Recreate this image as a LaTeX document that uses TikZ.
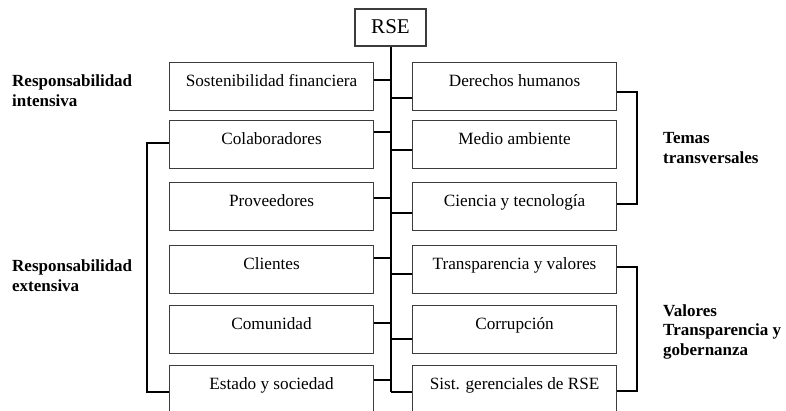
\documentclass[tikz,border=0pt]{standalone}
\usepackage{fontspec}
\setmainfont{Liberation Serif}
\usetikzlibrary{calc}
\definecolor{boxgray}{HTML}{3C3C3C}
\begin{document}
\begin{tikzpicture}[x={(1pt,0pt)},y={(0pt,-1pt)},
  box/.style={draw=boxgray, line width=1.1pt, rectangle, minimum width=204pt,
    inner xsep=0pt, inner ysep=0pt, text height=24pt, text depth=24pt,
    anchor=north west, font=\fontsize{17.2}{20}\selectfont},
  conn/.style={line width=2pt, black},
  lbl/.style={font=\bfseries\fontsize{17}{19.5}\selectfont, align=left,
    anchor=base west, inner sep=0pt}]
\clip (0,0) rectangle (786,410);
\fill[white] (0,0) rectangle (786,410);

\node[draw=boxgray, line width=1.1pt, minimum width=71pt, minimum height=37pt,
  inner sep=0pt, text height=14pt, text depth=2pt, font=\fontsize{21}{24}\selectfont] (rse) at (390.5,27.5) {RSE};

\node[box] (L1) at (169,62) {Sostenibilidad financiera};
\node[box] (L2) at (169,120) {Colaboradores};
\node[box] (L3) at (169,182) {Proveedores};
\node[box] (L4) at (169,245) {Clientes};
\node[box] (L5) at (169,305) {Comunidad};
\node[box] (L6) at (169,365) {Estado y sociedad};

\node[box] (R1) at (412,62) {Derechos humanos};
\node[box] (R2) at (412,120) {Medio ambiente};
\node[box] (R3) at (412,182) {Ciencia y tecnología};
\node[box] (R4) at (412,245) {Transparencia y valores};
\node[box] (R5) at (412,305) {Corrupción};
\node[box] (R6) at (412,365) {Sist. gerenciales de RSE};

% trunk
\coordinate (tbot) at ($(R6.north west)+(0,27)$);
\draw[conn] (rse.south) -- (rse.south |- tbot);

% left connectors
\foreach \n/\d in {1/18,2/12,3/16,4/13,5/18,6/15}{
  \coordinate (a\n) at ($(L\n.north east)+(0,\d)$);
  \draw[conn] (a\n) -- (a\n -| rse.south);
}
% right connectors
\foreach \n/\d in {1/36,2/30,3/31,4/29,5/34,6/27}{
  \coordinate (b\n) at ($(R\n.north west)+(0,\d)$);
  \draw[conn] (b\n -| rse.south) -- (b\n);
}

% brackets
\coordinate (t1) at ($(R1.north east)+(0,30)$);
\coordinate (t2) at ($(R3.north east)+(0,22)$);
\draw[conn] (t1) -- ++(20,0) |- (t2);
\coordinate (v1) at ($(R4.north east)+(0,22)$);
\coordinate (v2) at ($(R6.north east)+(0,26)$);
\draw[conn] (v1) -- ++(20,0) |- (v2);
\coordinate (e1) at ($(L2.north west)+(0,23)$);
\coordinate (e2) at ($(L6.north west)+(0,27)$);
\draw[conn] (e1) -- ++(-22,0) |- (e2);

% labels (base anchor = baseline of last line)
\node[lbl] (li) at (12,106) {Responsabilidad\\intensiva};
\node[lbl] (le) at (12,291) {Responsabilidad\\extensiva};
\node[lbl] (tt) at (663,163) {Temas\\transversales};
\node[lbl] (vt) at (663,355) {Valores\\Transparencia y\\gobernanza};
\end{tikzpicture}
\end{document}
